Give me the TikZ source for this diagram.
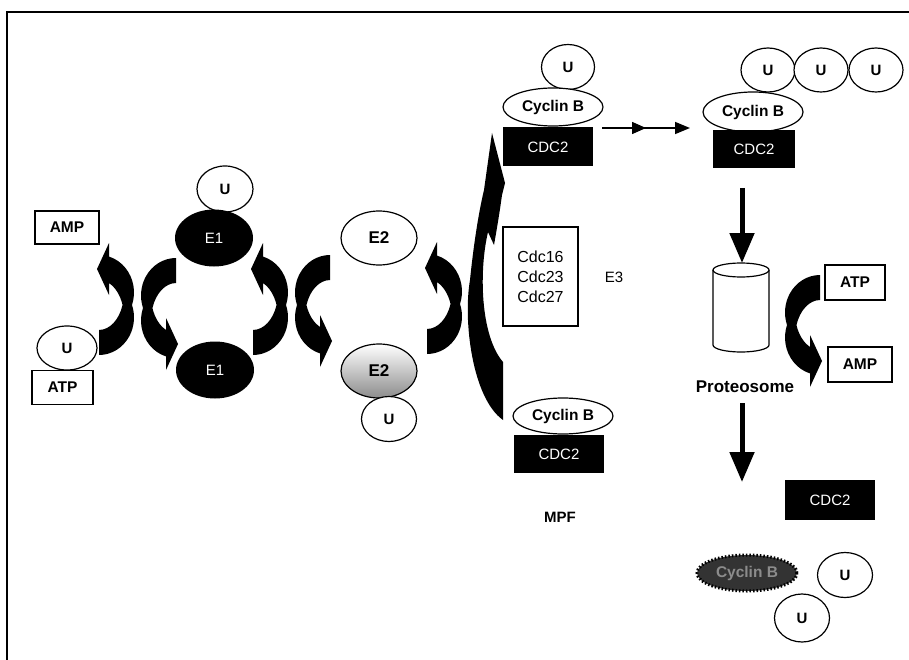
\documentclass[tikz,border=0pt]{standalone}
\usepackage{fontspec}
\setmainfont{Liberation Sans}
\usetikzlibrary{shapes.geometric,arrows.meta,decorations.markings}
\newcommand{\myfs}[1]{\fontsize{#1}{#1}\selectfont}
\begin{document}
\begin{tikzpicture}[x=1pt,y=-1pt,
  uel/.style={ellipse, draw, line width=1.2pt, fill=white, inner sep=0pt, minimum width=55pt, minimum height=45pt, font=\bfseries\myfs{15}},
  cyc/.style={ellipse, draw, line width=1.2pt, fill=white, inner sep=0pt, minimum width=100pt, minimum height=38pt, font=\bfseries\myfs{15.5}},
  cdc/.style={rectangle, fill=black, text=white, inner sep=0pt, minimum width=90pt, minimum height=39pt, font=\myfs{15}},
  ebl/.style={ellipse, fill=black, text=white, inner sep=0pt, minimum width=78pt, minimum height=57pt, font=\myfs{15}},
  e2s/.style={ellipse, draw, line width=1.2pt, inner sep=0pt, minimum width=76pt, minimum height=54pt, font=\bfseries\myfs{17}},
  wbox/.style={rectangle, draw, line width=1.2pt, fill=white, inner sep=0pt, minimum width=62pt, minimum height=34pt, font=\bfseries\myfs{15.5}},
  lbl/.style={inner sep=0pt, font=\bfseries\myfs{15}},
  curv/.pic={
    \fill (0,50) arc[start angle=90, end angle=-19.47, x radius=35, y radius=37.5]
      arc[start angle=19.47, end angle=-73.4, x radius=35, y radius=37.5]
      -- (10,-62) -- (-2,-36) -- (10,-10) -- (10,-21.9)
      arc[start angle=-66.42, end angle=-19.47, x radius=25, y radius=37.5]
      arc[start angle=19.47, end angle=90, x radius=25, y radius=37.5]
      -- cycle;
  },
  bigarrow/.style={line width=5pt, -{Triangle[length=30pt,width=24pt]}},
]
\useasboundingbox (0,0) rectangle (909,660);
% frame
\draw[line width=2pt] (7,660) -- (7,12) -- (909,12);

% left group
\node[wbox, minimum width=64pt, minimum height=33pt] (amp1) at (67,227.5) {AMP};
\node[uel, minimum width=60pt, minimum height=44pt] (u1) at (67,348) {U};
\node[wbox, minimum width=61pt, minimum height=34pt] (atp1) at (62.5,387.5) {ATP};
\node[uel, minimum width=56pt, minimum height=46pt] (u2) at (225,189) {U};
\node[ebl] (e1a) at (214,238) {E1};
\node[ebl] (e1b) at (215,370) {E1};
\node[e2s, fill=white] (e2a) at (379,238) {E2};
\node[e2s, top color=white, middle color=black!10, bottom color=black!45] (e2b) at (379,371) {E2};
\node[uel] (u3) at (389,419) {U};

% curved arrows
\pic at (99,305) {curv};
\pic[rotate=180] at (176,308) {curv};
\pic at (253,305) {curv};
\pic[rotate=180] at (330,305) {curv};
\pic at (427,304) {curv};
\pic[rotate=180] at (820,325) {curv};

% big E3 arrow
\fill (503,420) .. controls (472,398) and (463,320) .. (470,280)
  .. controls (473,250) and (478,215) .. (484,190)
  -- (492,133) -- (505,183) -- (502,195)
  .. controls (500,210) and (497,228) .. (494,245)
  -- (488,232)
  .. controls (479,270) and (480,335) .. (503,362) -- cycle;

% E3 complex
\node[uel, minimum width=53pt] (u4) at (568,67) {U};
\node[cyc] (cycA) at (553,107) {Cyclin B};
\node[cdc] (cdcA) at (548,147) {CDC2};
\node[draw, line width=1.2pt, fill=white, inner sep=0pt, minimum width=75pt, minimum height=99pt, align=center, font=\fontsize{16}{20}\selectfont] (cdcbox) at (540.5,276.5) {Cdc16\\Cdc23\\Cdc27};
\node[inner sep=0pt, font=\myfs{15}] (e3) at (614,277) {E3};
\node[cyc, minimum height=36pt] (cycC) at (563,416) {Cyclin B};
\node[cdc, minimum height=38pt] (cdcC) at (559,454) {CDC2};
\node[lbl] (mpf) at (560,517) {MPF};

% ubiquitinated
\node[uel, minimum width=54pt, minimum height=44pt] (u5) at (768,70) {U};
\node[uel, minimum width=54pt, minimum height=44pt] (u6) at (821,70) {U};
\node[uel, minimum width=54pt, minimum height=44pt] (u7) at (876,70) {U};
\node[cyc, minimum height=40pt] (cycB) at (753,112) {Cyclin B};
\node[cdc, minimum width=82pt, minimum height=38pt] (cdcB) at (754,149) {CDC2};

\coordinate (a1) at (602,128);
\coordinate (a2) at (690,128);
\draw[line width=1.5pt, postaction={decorate},
  decoration={markings, mark=at position 0.5 with {\arrow{Triangle[length=14pt,width=12pt]}}},
  -{Triangle[length=15pt,width=12pt]}] (a1) -- (a2);

% proteasome
\node[inner sep=0pt, minimum width=56pt, minimum height=89pt] (cyl) at (741,307.5) {};
\draw[line width=1.2pt, fill=white] (713,270) -- (713,345)
  arc[start angle=180, end angle=0, x radius=28, y radius=7] -- (769,270);
\draw[line width=1.2pt, fill=white] (741,270) ellipse[x radius=28, y radius=7];
\node[inner sep=0pt, font=\bfseries\myfs{17}] (prot) at (745,387) {Proteosome};
\node[wbox, minimum width=60pt, minimum height=35pt] (atp2) at (855,282.5) {ATP};
\node[wbox, minimum width=64pt, minimum height=35pt] (amp2) at (860,364.5) {AMP};

\coordinate (d1) at (742,188);
\draw[bigarrow] (d1) -- (742,263) coordinate (d1e);
\coordinate (d2) at (742,403);
\draw[bigarrow] (d2) -- (742,482) coordinate (d2e);

% products
\node[cdc, minimum height=40pt] (cdcD) at (830,500) {CDC2};
\node[ellipse, draw=black, line width=3pt, dash pattern=on 1.5pt off 2pt, fill=black!80, text=black!45, inner sep=0pt, minimum width=100pt, minimum height=36pt, font=\bfseries\myfs{15.5}] (cycD) at (747,573) {Cyclin B};
\node[uel] (u8) at (845,575) {U};
\node[uel, minimum height=48pt] (u9) at (802,618) {U};
\end{tikzpicture}
\end{document}
